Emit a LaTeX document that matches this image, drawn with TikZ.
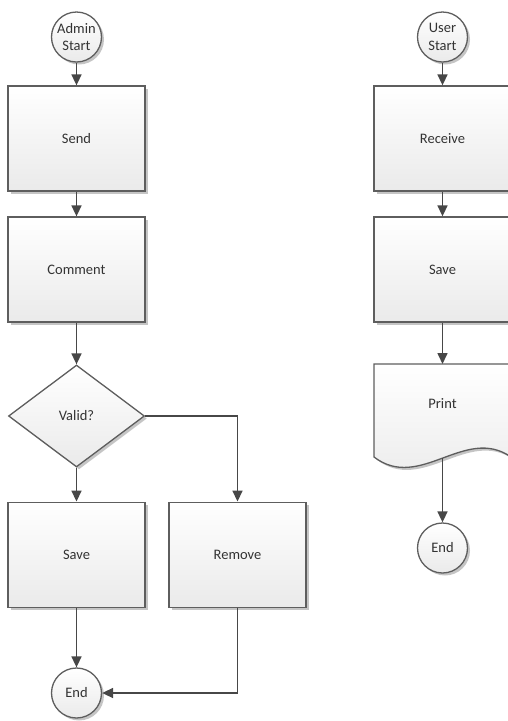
\documentclass[tikz,border=0pt]{standalone}
\usepackage{fontspec}
\setmainfont{Carlito}
\usetikzlibrary{shapes.geometric,shadows,arrows.meta}
\definecolor{edgec}{HTML}{5E5E5E}
\definecolor{connc}{HTML}{474747}
\definecolor{txtc}{HTML}{333333}
\definecolor{fillb}{HTML}{EAEAEA}
\begin{document}
\begin{tikzpicture}[x=1pt,y=-1pt,
  base/.style={draw=edgec, line width=1.3pt, top color=white, bottom color=fillb,
    font=\fontsize{14.5}{17.5}\selectfont, text=txtc,
    drop shadow={shadow xshift=2.5pt, shadow yshift=-2.5pt, fill=black!45, opacity=0.5}},
  proc/.style={base, rectangle, minimum width=137pt, minimum height=105pt, inner sep=0pt},
  term/.style={base, circle, minimum size=50pt, inner sep=0pt, align=center},
  dec/.style={base, diamond, minimum width=136pt, minimum height=102pt, inner sep=0pt},
  conn/.style={draw=connc, line width=1.6pt, -{Triangle[length=11pt,width=10pt]}}
]
\useasboundingbox (0,0) rectangle (508,721);

% left column
\node[term] (astart) at (76.5,37) {Admin\\Start};
\node[proc] (send) at (76.5,138.5) {Send};
\node[proc] (comment) at (76.5,269.5) {Comment};
\node[dec] (valid) at (76.5,416) {Valid?};
\node[proc] (save1) at (76.5,554.7) {Save};
\node[proc] (remove) at (237.5,554.7) {Remove};
\node[term] (end1) at (76.5,693) {End};

% right column
\node[term] (ustart) at (442.5,37) {User\\Start};
\node[proc] (receive) at (442.5,138.5) {Receive};
\node[proc] (save2) at (442.5,269.5) {Save};
% document shape
\fill[black!45, opacity=0.5, shift={(2.5,2.5)}]
  (374,364) -- (511,364) -- (511,457) .. controls (465,425) and (420,492) .. (374,457) -- cycle;
\path[draw=edgec, line width=1.3pt, top color=white, bottom color=fillb]
  (374,364) -- (511,364) -- (511,457) .. controls (465,425) and (420,492) .. (374,457) -- cycle;
\node[font=\fontsize{14.5}{17.5}\selectfont, text=txtc] (print) at (442.5,404) {Print};
\coordinate (ptop) at (442.5,364);
\coordinate (pwave) at (442.5,458);
\node[term] (end2) at (442.5,548) {End};

% connectors
\draw[conn] (astart) -- (send);
\draw[conn] (send) -- (comment);
\draw[conn] (comment) -- (valid);
\draw[conn] (valid) -- (save1);
\draw[conn] (valid.east) -| (remove.north);
\draw[conn] (save1) -- (end1);
\draw[conn] (remove.south) |- (end1.east);
\draw[conn] (ustart) -- (receive);
\draw[conn] (receive) -- (save2);
\draw[conn] (save2) -- (ptop);
\draw[conn] (pwave) -- (end2);
\end{tikzpicture}
\end{document}
